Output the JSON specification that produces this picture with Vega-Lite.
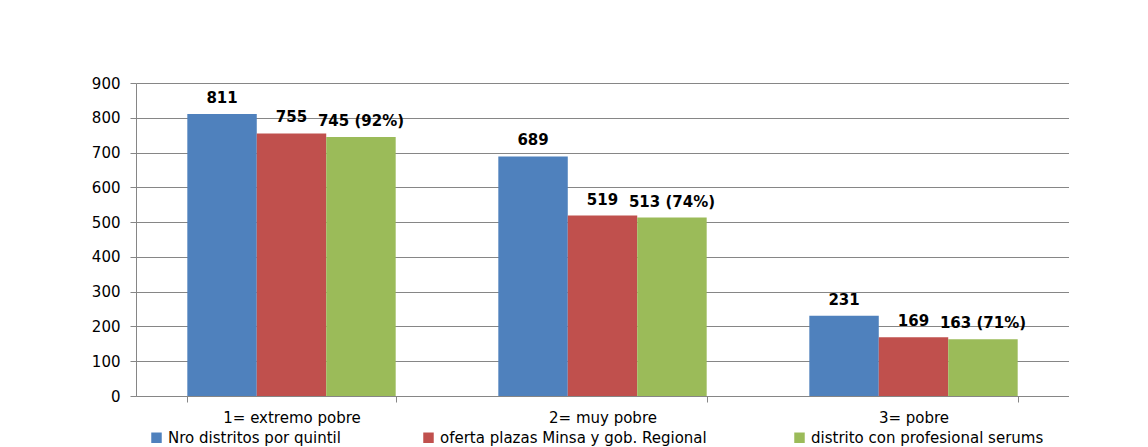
{
  "$schema": "https://vega.github.io/schema/vega-lite/v6.json",
  "width": 933,
  "height": 313,
  "autosize": {"type": "pad"},
  "padding": {"left": 91, "top": 76, "right": 0, "bottom": 0},
  "background": "white",
  "config": {
    "view": {"stroke": null},
    "font": "DejaVu Sans",
    "axis": {"domainColor": "#868686", "tickColor": "#868686", "gridColor": "#868686", "labelColor": "#000000", "labelFont": "DejaVu Sans", "labelFontSize": 15, "titleFontSize": 0}
  },
  "data": {
    "values": [
      {"quintil": "1= extremo pobre", "serie": "Nro distritos por quintil", "valor": 811, "etiqueta": "811"},
      {"quintil": "1= extremo pobre", "serie": "oferta plazas  Minsa y gob. Regional", "valor": 755, "etiqueta": "755"},
      {"quintil": "1= extremo pobre", "serie": "distrito con profesional serums", "valor": 745, "etiqueta": "745 (92%)"},
      {"quintil": "2= muy pobre", "serie": "Nro distritos por quintil", "valor": 689, "etiqueta": "689"},
      {"quintil": "2= muy pobre", "serie": "oferta plazas  Minsa y gob. Regional", "valor": 519, "etiqueta": "519"},
      {"quintil": "2= muy pobre", "serie": "distrito con profesional serums", "valor": 513, "etiqueta": "513 (74%)"},
      {"quintil": "3= pobre", "serie": "Nro distritos por quintil", "valor": 231, "etiqueta": "231"},
      {"quintil": "3= pobre", "serie": "oferta plazas  Minsa y gob. Regional", "valor": 169, "etiqueta": "169"},
      {"quintil": "3= pobre", "serie": "distrito con profesional serums", "valor": 163, "etiqueta": "163 (71%)"}
    ]
  },
  "encoding": {
    "x": {
      "field": "quintil", "type": "nominal", "title": null,
      "scale": {"paddingInner": 0.33, "paddingOuter": 0.165},
      "axis": {"labelAngle": 0, "tickBand": "extent", "tickSize": 6, "labelPadding": 8, "labelFontSize": 15, "domainWidth": 1}
    },
    "xOffset": {
      "field": "serie", "type": "nominal",
      "sort": ["Nro distritos por quintil", "oferta plazas  Minsa y gob. Regional", "distrito con profesional serums"],
      "scale": {"paddingInner": 0, "paddingOuter": 0}
    },
    "y": {
      "field": "valor", "type": "quantitative", "title": null,
      "scale": {"domain": [0, 900], "nice": false},
      "axis": {"values": [0, 100, 200, 300, 400, 500, 600, 700, 800, 900], "tickSize": 6, "labelPadding": 10, "grid": true}
    }
  },
  "layer": [
    {
      "mark": {"type": "bar"},
      "encoding": {
        "color": {
          "field": "serie", "type": "nominal",
          "sort": ["Nro distritos por quintil", "oferta plazas  Minsa y gob. Regional", "distrito con profesional serums"],
          "scale": {"domain": ["Nro distritos por quintil", "oferta plazas  Minsa y gob. Regional", "distrito con profesional serums"], "range": ["#4F81BD", "#C0504D", "#9BBB59"]},
          "legend": {
            "title": null, "orient": "none", "legendX": 13, "legendY": 347, "direction": "horizontal", "columns": 3,
            "symbolType": "square", "symbolSize": 110, "symbolStrokeWidth": 0, "symbolOffset": 0,
            "labelFont": "DejaVu Sans", "labelFontSize": 15, "labelColor": "#000000", "labelLimit": 400,
            "columnPadding": 80, "padding": 0
          }
        }
      }
    },
    {
      "mark": {"type": "text", "baseline": "bottom", "dy": -8, "fontWeight": "bold", "fontSize": 15, "font": "DejaVu Sans", "color": "#000000"},
      "encoding": {
        "text": {"field": "etiqueta"}
      }
    }
  ]
}
